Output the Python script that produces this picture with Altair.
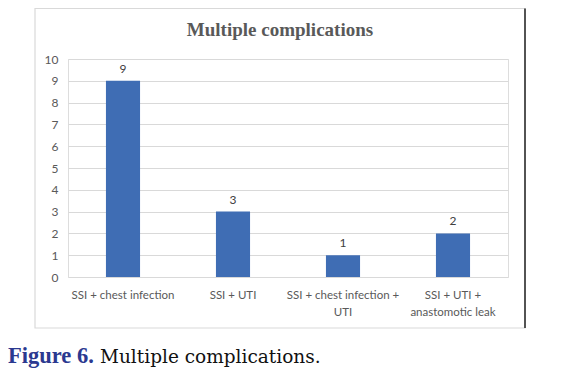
import altair as alt
import pandas as pd

categories = ["SSI + chest infection", "SSI + UTI", "SSI + chest infection +|UTI", "SSI + UTI +|anastomotic leak"]
counts = [9, 3, 1, 2]
y_ticks = [0, 1, 2, 3, 4, 5, 6, 7, 8, 9, 10]
chart_title = "Multiple complications"
caption_label = "Figure 6."
caption_text = "Multiple complications."

df = pd.DataFrame({"cat": categories, "n": counts})

W, H = 440, 218

x = alt.X("cat:N", sort=categories, title=None,
          scale=alt.Scale(paddingInner=0.69, paddingOuter=0.345),
          axis=alt.Axis(labelExpr="split(datum.label, '|')", labelAngle=0, ticks=False, domain=False,
                        labelPadding=18, labelFont="Lato", labelFontSize=11.5, labelColor="#595959",
                        labelLineHeight=17, labelBaseline="middle"))
y = alt.Y("n:Q", title=None,
          scale=alt.Scale(domain=[0, 10], nice=False),
          axis=alt.Axis(values=y_ticks, ticks=False, domain=False, labelPadding=10,
                        labelOverlap=False, labelFont="Lato", labelFontSize=12, labelColor="#595959",
                        gridColor="#D9D9D9", gridWidth=1))

bars = alt.Chart(df).mark_bar(color="#3F6DB4").encode(x=x, y=y)
labels = alt.Chart(df).mark_text(dy=-12, font="Lato", fontSize=12, color="#404040").encode(
    x=x, y=y, text="n:Q")

box = alt.Chart(df.head(1)).mark_rect(fill=None, stroke="#D9D9D9", strokeWidth=1.2).encode(
    x=alt.value(-33), x2=alt.value(457), y=alt.value(-50.5), y2=alt.value(269))
right_edge = alt.Chart(df.head(1)).mark_rule(color="#222222", strokeWidth=1.5).encode(
    x=alt.value(457), y=alt.value(-50.5), y2=alt.value(269))

title = alt.Chart(pd.DataFrame({"t": [chart_title]})).mark_text(
    font="Liberation Serif", fontWeight="bold", fontSize=19, color="#595959", baseline="middle").encode(
    x=alt.value(212), y=alt.value(-29), text="t:N")

cap1 = alt.Chart(pd.DataFrame({"t": [caption_label]})).mark_text(
    font="Liberation Serif", fontWeight="bold", fontSize=22.5, color="#2B3990", align="left", baseline="alphabetic").encode(
    x=alt.value(-60), y=alt.value(304), text="t:N")
cap2 = alt.Chart(pd.DataFrame({"t": [caption_text]})).mark_text(
    font="DejaVu Serif", fontSize=18.5, color="#111111", align="left", baseline="alphabetic").encode(
    x=alt.value(32), y=alt.value(304), text="t:N")

chart = alt.layer(bars, labels, box, right_edge, title, cap1, cap2).properties(
    width=W, height=H,
    autosize=alt.AutoSizeParams(type="none"),
    padding={"left": 60, "top": 51, "right": 49, "bottom": 93},
).configure_view(stroke=None).configure(background="white")

chart.save("out.html", embed_options={"renderer": "svg", "actions": False})
